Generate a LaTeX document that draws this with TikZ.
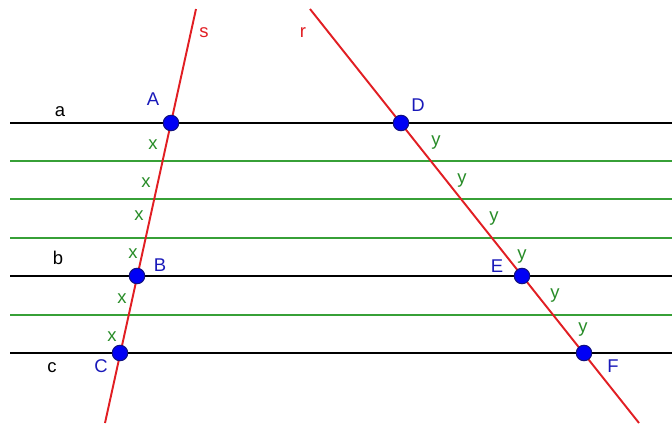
\documentclass[tikz,border=0pt]{standalone}
\usepackage{fontspec}
\setmainfont{Liberation Sans}
\usetikzlibrary{positioning}

\definecolor{ptblue}{RGB}{0,0,245}
\definecolor{lblblue}{RGB}{25,25,185}
\definecolor{segred}{RGB}{225,30,35}
\definecolor{auxgreen}{RGB}{55,160,55}
\definecolor{lblgreen}{RGB}{40,140,40}

\begin{document}
\begin{tikzpicture}[
		x=0.02cm, y=-0.02cm,
		parallel/.style={
			line width=1.1pt,
			black
		},
		helper/.style={
			line width=0.8pt,
			auxgreen
		},
		transversal/.style={
			line width=1.1pt,
			segred
		},
		point/.style={
			circle,
			draw=lblblue!70!black,
			fill=ptblue,
			line width=0.6pt,
			inner sep=0pt,
			minimum size=0.31cm
		},
		ptlabel/.style={
			text=lblblue,
			font=\fontsize{10.5}{12}\selectfont
		},
		linelabel/.style={
			font=\fontsize{10.5}{12}\selectfont
		},
		seglabel/.style={
			text=lblgreen,
			font=\fontsize{10.5}{12}\selectfont
		}
	]
	
	\useasboundingbox (0,0) rectangle (672,423);
	
	% Ends of the lines
	\coordinate (aL) at (10,123);
	\coordinate (aR) at (672,123);
	\coordinate (bL) at (10,276);
	\coordinate (bR) at (672,276);
	\coordinate (cL) at (10,353);
	\coordinate (cR) at (672,353);
	\coordinate (sTop) at (196,9);
	\coordinate (sBot) at (105,423);
	\coordinate (rTop) at (310,9);
	\coordinate (rBot) at (639,423);
	
	% Green dividing lines
	\foreach \h in {161,199,238,315}
		\draw[helper] (10,\h) -- (672,\h);
	
	% Parallel lines a, b, c
	\draw[parallel] (aL) -- (aR);
	\draw[parallel] (bL) -- (bR);
	\draw[parallel] (cL) -- (cR);
	
	% Transversals s and r
	\draw[transversal] (sTop) -- (sBot);
	\draw[transversal] (rTop) -- (rBot);
	
	% Intersection points
	\node[point] (A) at (171,123) {};
	\node[point] (B) at (137,276) {};
	\node[point] (C) at (120,353) {};
	\node[point] (D) at (401,123) {};
	\node[point] (E) at (522,276) {};
	\node[point] (F) at (584,353) {};
	
	% Point labels
	\node[ptlabel] (labA) at (153,99) {A};
	\node[ptlabel] (labB) at (160,265) {B};
	\node[ptlabel] (labC) at (101,366) {C};
	\node[ptlabel] (labD) at (418,105) {D};
	\node[ptlabel] (labE) at (497,266) {E};
	\node[ptlabel] (labF) at (613,366) {F};
	
	% Line labels
	\node[linelabel] (laba) at (60,112) {a};
	\node[linelabel] (labb) at (58,258) {b};
	\node[linelabel] (labc) at (52,368) {c};
	\node[linelabel, text=segred] (labs) at (204,33) {s};
	\node[linelabel, text=segred] (labr) at (303,33) {r};
	
	% Equal segments on s
	\node[seglabel] (x1) at (153,145) {x};
	\node[seglabel] (x2) at (146,183) {x};
	\node[seglabel] (x3) at (139,216) {x};
	\node[seglabel] (x4) at (133,254) {x};
	\node[seglabel] (x5) at (122,299) {x};
	\node[seglabel] (x6) at (112,337) {x};
	
	% Equal segments on r
	\node[seglabel] (y1) at (436,143) {y};
	\node[seglabel] (y2) at (462,181) {y};
	\node[seglabel] (y3) at (494,219) {y};
	\node[seglabel] (y4) at (522,257) {y};
	\node[seglabel] (y5) at (555,296) {y};
	\node[seglabel] (y6) at (583,330) {y};
	
\end{tikzpicture}
\end{document}
